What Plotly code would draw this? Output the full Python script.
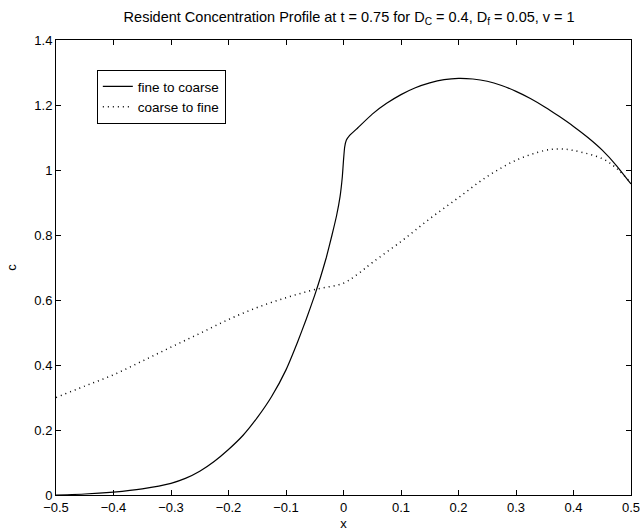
import plotly.graph_objects as go

# fine to coarse (solid)
x_fc = [-0.5, -0.45, -0.4, -0.35, -0.3, -0.275, -0.25, -0.225, -0.2, -0.175, -0.15,
        -0.125, -0.1, -0.08, -0.065, -0.05, -0.04, -0.03, -0.02, -0.012, -0.006,
        -0.002, 0.0, 0.002, 0.005, 0.01, 0.025, 0.05, 0.075, 0.1, 0.125, 0.15,
        0.175, 0.2, 0.225, 0.25, 0.275, 0.3, 0.325, 0.35, 0.375, 0.4, 0.425, 0.45,
        0.475, 0.5]
c_fc = [0.0, 0.003, 0.009, 0.019, 0.036, 0.051, 0.073, 0.103, 0.14, 0.183, 0.238,
        0.303, 0.385, 0.47, 0.54, 0.615, 0.67, 0.73, 0.80, 0.86, 0.918,
        0.98, 1.03, 1.07, 1.092, 1.105, 1.13, 1.172, 1.205, 1.232, 1.253, 1.268,
        1.278, 1.282, 1.28, 1.273, 1.26, 1.242, 1.22, 1.194, 1.165, 1.134, 1.1, 1.061,
        1.013, 0.957]

# coarse to fine (dotted)
x_cf = [-0.5, -0.45, -0.4, -0.35, -0.3, -0.25, -0.2, -0.15, -0.1, -0.05, 0.0,
        0.025, 0.05, 0.1, 0.15, 0.2, 0.25, 0.3, 0.35, 0.375, 0.4, 0.45, 0.475, 0.5]
c_cf = [0.30, 0.335, 0.37, 0.412, 0.455, 0.497, 0.54, 0.577, 0.607, 0.632, 0.652,
        0.68, 0.715, 0.78, 0.85, 0.915, 0.98, 1.03, 1.06, 1.065, 1.06, 1.035, 1.005, 0.96]

x_ticks = [-0.5, -0.4, -0.3, -0.2, -0.1, 0, 0.1, 0.2, 0.3, 0.4, 0.5]
y_ticks = [0, 0.2, 0.4, 0.6, 0.8, 1.0, 1.2, 1.4]

FONT = "Liberation Sans, Arial, sans-serif"

fig = go.Figure()
fig.add_trace(go.Scatter(x=x_fc, y=c_fc, mode="lines", name="fine to coarse",
                         line=dict(color="black", width=1.2, shape="spline", smoothing=0.4)))
fig.add_trace(go.Scatter(x=x_cf, y=c_cf, mode="lines", name="coarse to fine",
                         line=dict(color="black", width=1.5, dash="1px,4px", shape="spline")))

axis_common = dict(showline=True, linecolor="black", linewidth=1, mirror="ticks",
                   ticks="inside", ticklen=5, tickcolor="black", showgrid=False,
                   zeroline=False, automargin=False,
                   tickfont=dict(family=FONT, size=13, color="black"))

fig.update_layout(
    width=643, height=531,
    margin=dict(l=56, r=12, t=40, b=36),
    paper_bgcolor="white", plot_bgcolor="white",
    font=dict(family=FONT, size=13, color="black"),
    title=dict(text="Resident Concentration Profile at t = 0.75 for D<sub>C</sub> = 0.4, D<sub>f</sub> = 0.05, v = 1",
               x=0.543, xanchor="center", y=1 - 17 / 531, yanchor="middle",
               font=dict(family=FONT, size=14.5, color="black")),
    xaxis=dict(range=[-0.5, 0.5], tickvals=x_ticks,
               title=dict(text="x", standoff=5, font=dict(family=FONT, size=13)),
               **axis_common),
    yaxis=dict(range=[0, 1.4], tickvals=y_ticks,
               title=dict(text="c", standoff=14, font=dict(family=FONT, size=13)),
               **axis_common),
    legend=dict(x=0.071, y=0.934, xanchor="left", yanchor="top",
                bordercolor="black", borderwidth=1, bgcolor="white",
                font=dict(family=FONT, size=13.5, color="black"),
                tracegroupgap=0, itemwidth=30),
    showlegend=True,
)

fig.write_html("out.html")
